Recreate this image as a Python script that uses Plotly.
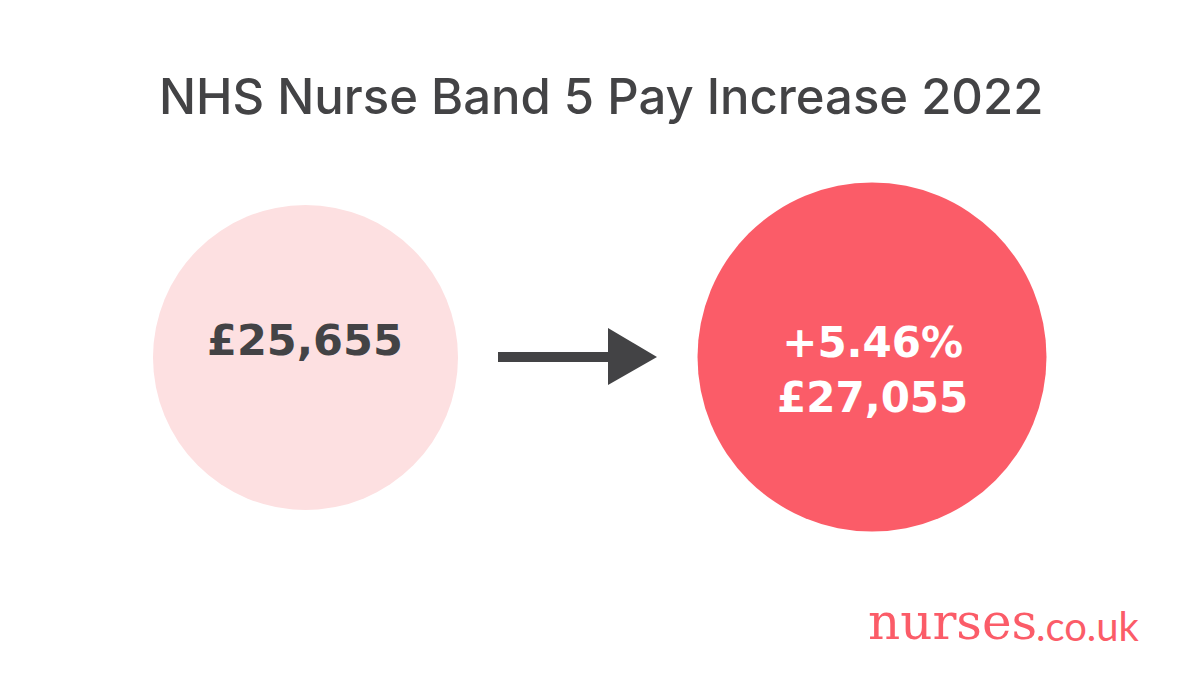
import plotly.graph_objects as go

# values from the picture
title = "NHS Nurse Band 5 Pay Increase 2022"
old_pay = "£25,655"
new_pay = "+5.46%<br>£27,055"
logo_main = "nurses"
logo_end = ".co.uk"

# circle centres and radii in pixels
circle_x = [305.5, 872]
circle_y = [357.5, 357]
circle_r = [152.5, 174.5]
circle_colors = ["#fde0e1", "#fb5c68"]

arrow_x = [498, 608]
arrow_y = [357, 357]
head_x = [608, 657, 608, 608]
head_y = [328, 357, 385, 328]

dark = "#434345"
red = "#fb5c68"

fig = go.Figure()

for cx, cy, r, col in zip(circle_x, circle_y, circle_r, circle_colors):
    fig.add_shape(type="circle", x0=cx - r, x1=cx + r, y0=cy - r, y1=cy + r,
                  fillcolor=col, line_width=0, layer="below")

fig.add_trace(go.Scatter(x=arrow_x, y=arrow_y, mode="lines",
                         line=dict(color=dark, width=10), hoverinfo="skip"))
fig.add_trace(go.Scatter(x=head_x, y=head_y, mode="lines", fill="toself",
                         fillcolor=dark, line=dict(color=dark, width=0), hoverinfo="skip"))

fig.add_annotation(x=601, y=96, text=title, showarrow=False,
                   font=dict(family="Inter", size=49, weight=500, color=dark))
fig.add_annotation(x=305, y=340, text="<b>" + old_pay + "</b>", showarrow=False,
                   font=dict(family="DejaVu Sans", size=43, color=dark))
fig.add_annotation(x=872, y=370, text="<b>" + new_pay + "</b>", showarrow=False,
                   font=dict(family="DejaVu Sans", size=42, color="white"))
fig.add_annotation(x=952, y=622, text=logo_main, showarrow=False,
                   font=dict(family="DejaVu Serif", size=50, color=red))
fig.add_annotation(x=1088, y=626, text=logo_end, showarrow=False,
                   font=dict(family="Lato", size=40, color=red))

fig.update_xaxes(range=[0, 1200], visible=False, fixedrange=True)
fig.update_yaxes(range=[700, 0], visible=False, fixedrange=True)
fig.update_layout(width=1200, height=700, margin=dict(l=0, r=0, t=0, b=0),
                  showlegend=False, plot_bgcolor="white", paper_bgcolor="white")

fig.write_html("out.html", config={"displayModeBar": False},
               post_script="document.body.style.margin = '0';")
